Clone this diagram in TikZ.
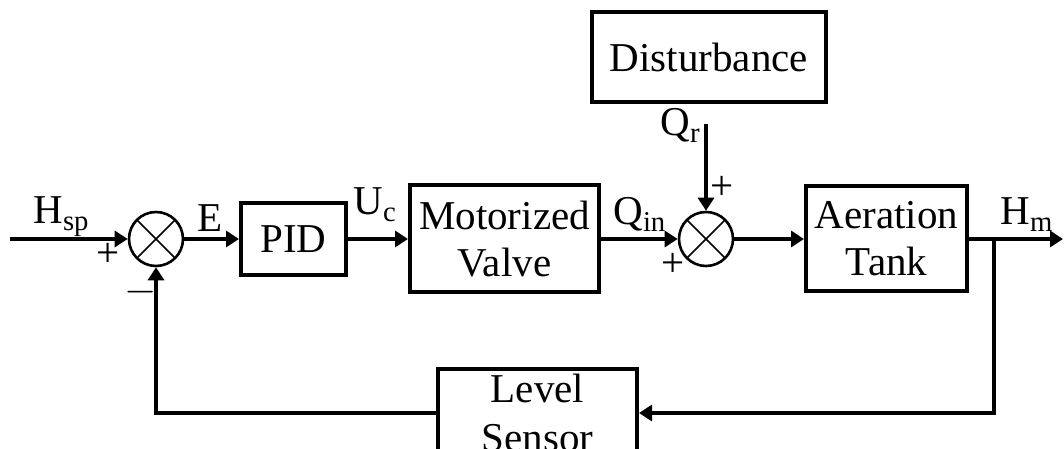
\documentclass[tikz,border=0pt]{standalone}
\usepackage{fontspec}
\setmainfont{Liberation Serif}
\usepackage{tikz}
\usetikzlibrary{calc,arrows.meta,positioning}
\tikzset{
  ar/.style={-{Triangle[length=6.5pt,width=8pt]},line width=1.8pt},
  blk/.style={draw,line width=2pt,align=center,inner sep=0pt,font=\fontsize{20.5}{23.5}\selectfont},
  sumjn/.style={circle,draw,line width=1.3pt,minimum size=27pt,inner sep=0pt,
    path picture={\draw[line width=0.8pt] (path picture bounding box.north west)--(path picture bounding box.south east)
      (path picture bounding box.north east)--(path picture bounding box.south west);}},
  lbl/.style={font=\fontsize{20.5}{23.5}\selectfont,inner sep=0pt}
}

\begin{document}
\begin{tikzpicture}[x=0.5pt,y=0.5pt]
\useasboundingbox (0,0) rectangle (1064,449);
% blocks
\node[sumjn] (s1) at (156,210) {};
\node[blk,minimum width=52.5pt,minimum height=36pt] (pid) at (293.5,210) {PID};
\node[blk,minimum width=94.5pt,minimum height=53.5pt] (mv) at (504.5,210) {Motorized\\Valve};
\node[sumjn] (s2) at (706,210) {};
\node[blk,minimum width=117pt,minimum height=45pt] (dist) at (709,392) {Disturbance};
\node[blk,minimum width=80.5pt,minimum height=52.5pt] (tank) at (886.5,210) {Aeration\\Tank};
\node[blk,minimum width=99.5pt,minimum height=44pt] (ls) at (537.5,36) {Level\\[1pt]Sensor};
\coordinate (in) at (10,210);
\coordinate (qr) at (706,325);
\coordinate (br) at (994,210);
\coordinate (out) at (1063,210);
% forward path
\draw[ar] (in) -- (s1.west);
\draw[ar] (s1.east) -- (pid.west);
\draw[ar] (pid.east) -- (mv.west);
\draw[ar] (mv.east) -- (s2.west);
\draw[ar] (qr) -- (s2.north);
\draw[ar] (s2.east) -- (tank.west);
\draw[ar] (tank.east) -- (out);
% feedback
\draw[ar] (br) |- (ls.east);
\draw[ar] (ls.west) -| (s1.south);
% signals and signs
\node[lbl,anchor=base west] at (33,225) {H\textsubscript{sp}};
\node[lbl,anchor=base west] at (197,217) {E};
\node[lbl,anchor=base west] at (353,234) {U\textsubscript{c}};
\node[lbl,anchor=base west] at (613,224) {Q\textsubscript{in}};
\node[lbl,anchor=base west] at (660,313) {Q\textsubscript{r}};
\node[lbl,anchor=base west] at (1000,224) {H\textsubscript{m}};
\node[lbl] at (108,194) {+};
\node[lbl] at (141,157) {$-$};
\node[lbl] at (722,261) {+};
\node[lbl] at (673,184) {+};
\end{tikzpicture}
\end{document}
